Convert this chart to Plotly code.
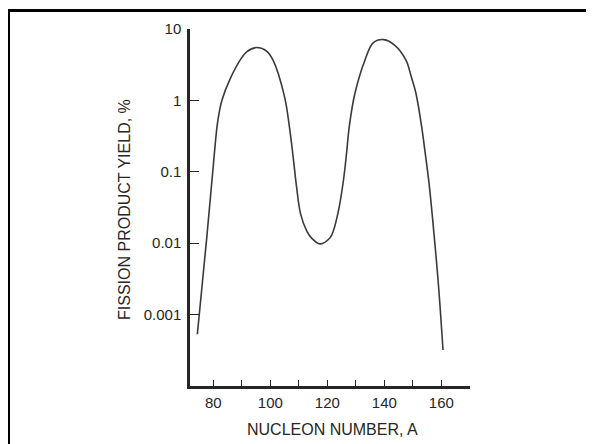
import plotly.graph_objects as go

# Data
nucleon_number = [74.4, 77.7, 79.8, 81.3, 82.1, 83.0, 85.9, 89.4, 91.7, 95.2, 98.7,
                  101.0, 105.0, 106.7, 108.0, 109.2, 110.6, 112.8, 114.5, 117.4,
                  120.9, 122.1, 124.1, 125.7, 126.8, 127.7, 129.7, 133.2, 136.1,
                  139.8, 143.7, 147.6, 149.5, 151.1, 153.1, 154.3, 155.7, 156.9,
                  159.0, 160.6]
yield_pct = [5.3e-4, 0.012, 0.10, 0.43, 0.69, 1.0, 2.0, 3.66, 4.8, 5.5, 4.9,
             3.63, 1.12, 0.427, 0.163, 0.062, 0.026, 0.0148, 0.0118, 0.0098,
             0.0118, 0.0148, 0.031, 0.078, 0.19, 0.43, 1.26, 3.66, 6.4,
             7.1, 5.9, 3.66, 2.12, 1.26, 0.43, 0.19, 0.069, 0.023,
             0.0026, 3.2e-4]

y_tick_vals = [10, 1, 0.1, 0.01, 0.001]
y_tick_text = ["10", "1", "0.1", "0.01", "0.001"]
x_tick_vals = [80, 100, 120, 140, 160]
x_tick_text = ["80", "100", "120", "140", "160"]

FONT = "Liberation Sans, Arial, Helvetica, sans-serif"
INK = "#262626"

# The page body has an 8px margin; page pixel = figure pixel + 8
OFF = 8
W, H = 594 - OFF, 444 - OFF
# plot area in page pixels: x 190..470, y 27..386
L, R, T, B = 190 - OFF, 470 - OFF, 27 - OFF, 386 - OFF


def px_x(p):
    return (p - OFF - L) / (R - L)


def px_y(p):
    return (B - (p - OFF)) / (B - T)


fig = go.Figure()
fig.add_trace(go.Scatter(
    x=nucleon_number, y=yield_pct, mode="lines",
    line=dict(color="#3a3a3a", width=1.6, shape="spline", smoothing=1.0),
    showlegend=False, hoverinfo="skip"))

fig.update_layout(
    width=W, height=H,
    margin=dict(l=L, r=W - R, t=T, b=H - B, pad=0),
    paper_bgcolor="white", plot_bgcolor="white",
    font=dict(family=FONT, color=INK),
    xaxis=dict(
        range=[71.82, 170.07], showgrid=False, zeroline=False,
        showline=True, linecolor=INK, linewidth=3,
        tickmode="array", tickvals=x_tick_vals, ticktext=x_tick_text,
        ticks="inside", ticklen=6, tickwidth=1.2, tickcolor=INK,
        tickfont=dict(size=15, family=FONT, color=INK),
        ticklabelstandoff=1,
        minor=dict(dtick=10, tick0=80, ticks="inside", ticklen=6, tickwidth=1.2,
                   tickcolor=INK, showgrid=False),
    ),
    yaxis=dict(
        type="log", range=[-4, 1], showgrid=False, zeroline=False,
        showline=True, linecolor=INK, linewidth=2.5,
        tickmode="array", tickvals=y_tick_vals, ticktext=y_tick_text,
        ticks="inside", ticklen=9, tickwidth=1.2, tickcolor=INK,
        tickfont=dict(size=15, family=FONT, color=INK),
        ticklabelstandoff=3,
    ),
    annotations=[
        dict(text="NUCLEON NUMBER, A", xref="paper", yref="paper",
             x=px_x(332), y=px_y(430), xanchor="center", yanchor="middle",
             showarrow=False, font=dict(size=16, family=FONT, color=INK)),
        dict(text="FISSION PRODUCT YIELD, %", xref="paper", yref="paper",
             x=px_x(125), y=px_y(209), xanchor="center", yanchor="middle",
             textangle=-90, showarrow=False,
             font=dict(size=16, family=FONT, color=INK)),
    ],
    shapes=[
        dict(type="line", xref="paper", yref="paper",
             x0=px_x(8.5), x1=px_x(8.5), y0=px_y(8.5), y1=px_y(470),
             line=dict(color="black", width=3)),
        dict(type="line", xref="paper", yref="paper",
             x0=px_x(7), x1=px_x(591), y0=px_y(8.5), y1=px_y(8.5),
             line=dict(color="black", width=3)),
        dict(type="line", xref="paper", yref="paper",
             x0=px_x(589.5), x1=px_x(589.5), y0=px_y(8.5), y1=px_y(470),
             line=dict(color="black", width=3)),
    ],
)

fig.write_html("out.html")
